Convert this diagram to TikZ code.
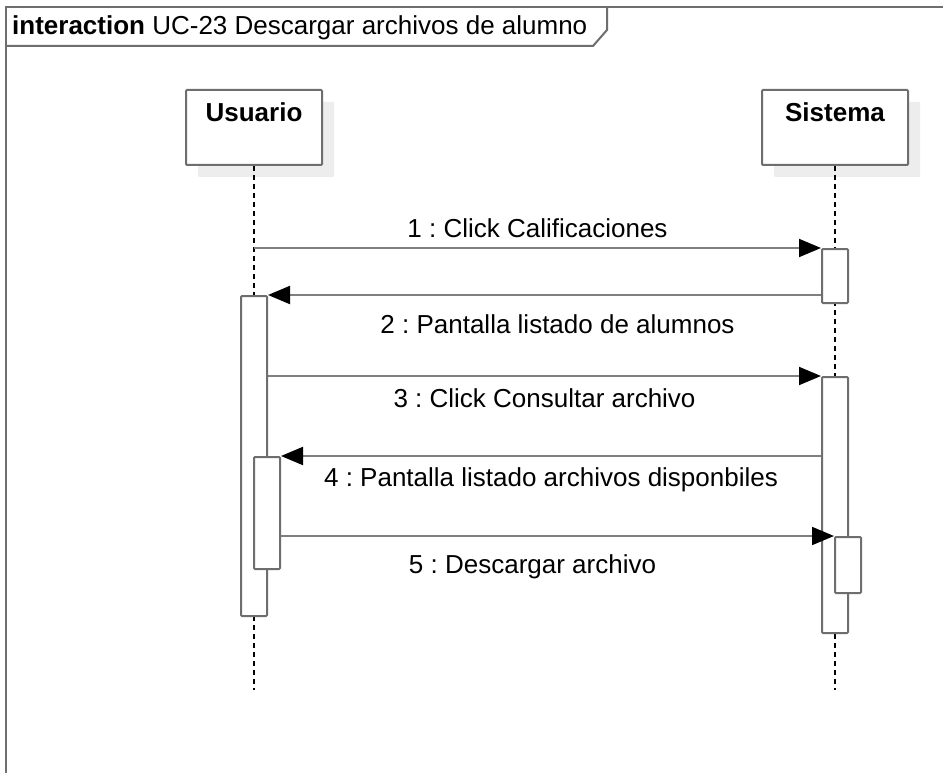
\documentclass[tikz,border=0pt]{standalone}
\usepackage{fontspec}
\setmainfont{Liberation Sans}
\usetikzlibrary{positioning,arrows.meta,shadows}
\frenchspacing

\definecolor{lineclr}{HTML}{7F7F7F}
\definecolor{boxclr}{HTML}{6E6E6E}

\tikzset{
  head/.style={draw=boxclr, line width=2pt, fill=white, rounded corners=1pt, minimum width=#1, inner sep=0pt,
    text height=32pt, text depth=43pt, font=\fontsize{26}{31}\selectfont\bfseries,
    drop shadow={shadow xshift=12pt, shadow yshift=-12pt, fill=black!7, opacity=1}},
  act/.style={draw=boxclr, line width=2pt, fill=white, rounded corners=1pt, minimum width=26pt, minimum height=#1, inner sep=0pt, anchor=north},
  life/.style={draw=black, line width=1.5pt, dash pattern=on 5pt off 4pt},
  msg/.style={draw=lineclr, line width=2pt, -{Triangle[length=22pt,width=18pt,color=black]}},
}

\begin{document}
\begin{tikzpicture}[x=1pt,y=-1pt,font=\fontsize{26}{31}\selectfont]
\clip (0,0) rectangle (943,773);
\fill[white] (0,0) rectangle (943,773);

% frame
\draw[boxclr, line width=2pt] (6,7) rectangle (960,790);
\draw[boxclr, line width=2pt] (6,46) -- (593,46) -- (607,30) -- (607,7);
\node[anchor=base west, inner sep=0pt] (title) at (12,35) {\textbf{interaction} UC-23 Descargar archivos de alumno};

% lifelines
\node[head=136pt] (usr) at (254,127.5) {Usuario};
\node[head=146pt] (sys) at (835,127.5) {Sistema};
\coordinate (usrEnd) at (254,690);
\coordinate (sysEnd) at (835,690);
\draw[life] (usr.south) -- (usrEnd);
\draw[life] (sys.south) -- (sysEnd);

% activations
\node[act=54pt] (sysAct1) at (835,248) {};
\node[act=320pt] (usrAct1) at (254,295) {};
\node[act=256pt] (sysAct2) at (835,376) {};
\node[act=112pt] (usrAct2) at (267,456) {};
\node[act=56pt] (sysAct3) at (848,536) {};

% messages
\draw[msg] (usr.south |- sysAct1.north) -- node[above=6pt]{1 : Click Calificaciones} (sysAct1.north west);
\draw[msg] (sysAct1.west |- usrAct1.north) -- node[below=15pt, xshift=13pt]{2 : Pantalla listado de alumnos} (usrAct1.north east);
\draw[msg] (usrAct1.east |- sysAct2.north) -- node[below=8pt]{3 : Click Consultar archivo} (sysAct2.north west);
\draw[msg] (sysAct2.west |- usrAct2.north) -- node[below=7pt]{4 : Pantalla listado archivos disponbiles} (usrAct2.north east);
\draw[msg] (usrAct2.east |- sysAct3.north) -- node[below=14pt, xshift=-25pt]{5 : Descargar archivo} (sysAct3.north west);
\end{tikzpicture}
\end{document}
